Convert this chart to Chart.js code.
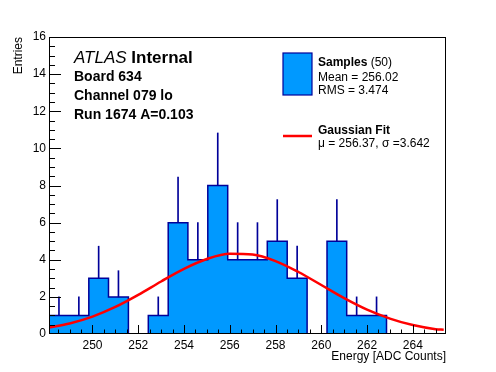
<!DOCTYPE html>
<html>
<head>
<meta charset="utf-8">
<script src="https://cdn.jsdelivr.net/npm/chart.js@4.4.1/dist/chart.umd.min.js"></script>
<style>
    html, body { margin: 0; padding: 0; background: #fff; }
    #wrap { width: 496px; height: 372px; }
</style>
</head>
<body>
<div id="wrap"><canvas id="hist"></canvas></div>
<script>
// histogram bins (ADC counts)
const binEdges = [248.1, 248.97, 249.84, 250.70, 251.57, 252.44, 253.31, 254.17, 255.04, 255.91,
    256.78, 257.64, 258.51, 259.38, 260.25, 261.11, 261.98, 262.85, 263.72, 264.58, 265.45];
const counts = [1, 1, 3, 2, 0, 1, 6, 4, 8, 4, 4, 5, 3, 0, 5, 1, 1, 0, 0, 0];
const errors = [1, 1, 1.73, 1.41, 0, 1, 2.45, 2, 2.83, 2, 2, 2.24, 1.73, 0, 2.24, 1, 1, 0, 0, 0];

// gaussian fit curve
const fitX = [248.1, 249, 250, 251, 252, 253, 254, 255, 256, 257, 258, 259, 260, 261, 262, 263, 264, 265, 265.35];
const fitY = [0.35, 0.57, 0.94, 1.46, 2.11, 2.83, 3.51, 4.04, 4.32, 4.28, 3.93, 3.34, 2.64, 1.93, 1.31, 0.83, 0.48, 0.26, 0.23];

const xTickLabels = [250, 252, 254, 256, 258, 260, 262, 264];
const yTickLabels = [0, 2, 4, 6, 8, 10, 12, 14, 16];

const infoLines = ['Board 634', 'Channel 079 lo', 'Run 1674 A=0.103'];
const sampleStats = ['Mean = 256.02', 'RMS = 3.474'];
const fitStats = 'μ = 256.37, σ =3.642';

var FONT = '"Liberation Sans", Arial, Helvetica, sans-serif';
var FILL = 'rgb(0, 153, 255)';
var EDGE = 'rgb(0, 0, 153)';

var histPoints = binEdges.map(function (e, i) {
    return { x: e, y: counts[Math.min(i, counts.length - 1)] };
});

var errPoints = [];
counts.forEach(function (c, i) {
    if (c > 0) {
        errPoints.push({ x: (binEdges[i] + binEdges[i + 1]) / 2, y: [c, c + errors[i]] });
    }
});

var fitPoints = fitX.map(function (x, i) {
    return { x: x, y: fitY[i] };
});

// ROOT style frame, inward ticks, labels and legend
var rootStyle = {
    id: 'rootStyle',
    afterDraw: function (chart) {
        var ctx = chart.ctx;
        var a = chart.chartArea;
        var xs = chart.scales.x;
        var ys = chart.scales.y;
        ctx.save();
        ctx.strokeStyle = '#000';
        ctx.lineWidth = 1;
        ctx.beginPath();
        var v, px;
        for (v = 248.5; v <= 265.4; v += 0.5) {
            px = Math.round(xs.getPixelForValue(v)) + 0.5;
            var len = (v % 2 === 0) ? 9 : 4.5;
            ctx.moveTo(px, a.bottom);
            ctx.lineTo(px, a.bottom - len);
        }
        for (v = 0.5; v < 16; v += 0.5) {
            px = Math.round(ys.getPixelForValue(v)) + 0.5;
            var ylen = (v % 2 === 0) ? 12 : 6;
            ctx.moveTo(a.left, px);
            ctx.lineTo(a.left + ylen, px);
        }
        ctx.stroke();
        ctx.strokeRect(a.left + 0.5, a.top + 0.5, a.right - a.left - 1, a.bottom - a.top - 1);

        // ATLAS label
        ctx.fillStyle = '#000';
        ctx.textBaseline = 'alphabetic';
        ctx.textAlign = 'left';
        ctx.font = 'italic 17px ' + FONT;
        ctx.fillText('ATLAS', 74, 63);
        var w = ctx.measureText('ATLAS ').width;
        ctx.font = 'bold 17px ' + FONT;
        ctx.fillText('Internal', 74 + w, 63);
        ctx.font = 'bold 14px ' + FONT;
        infoLines.forEach(function (t, i) {
            ctx.fillText(t, 74, 81 + i * 19);
        });

        // legend
        ctx.fillStyle = FILL;
        ctx.fillRect(283, 53, 29, 42);
        ctx.strokeStyle = EDGE;
        ctx.lineWidth = 1.2;
        ctx.strokeRect(283, 53, 29, 42);
        ctx.strokeStyle = 'rgb(255, 0, 0)';
        ctx.lineWidth = 2.5;
        ctx.beginPath();
        ctx.moveTo(283, 136);
        ctx.lineTo(312, 136);
        ctx.stroke();

        ctx.fillStyle = '#000';
        ctx.font = 'bold 12px ' + FONT;
        ctx.fillText('Samples', 318, 65.5);
        var sw = ctx.measureText('Samples ').width;
        ctx.font = '12px ' + FONT;
        ctx.fillText('(50)', 318 + sw, 65.5);
        sampleStats.forEach(function (t, i) {
            ctx.fillText(t, 318, 80.5 + i * 13.5);
        });
        ctx.font = 'bold 12px ' + FONT;
        ctx.fillText('Gaussian Fit', 318, 134);
        ctx.font = '12px ' + FONT;
        ctx.fillText(fitStats, 318, 147);
        ctx.restore();
    }
};

new Chart(document.getElementById('hist'), {
    type: 'line',
    data: {
        datasets: [{
            label: 'Gaussian Fit',
            data: fitPoints,
            borderColor: 'rgb(255, 0, 0)',
            borderWidth: 2.5,
            pointRadius: 0,
            cubicInterpolationMode: 'monotone',
            fill: false,
            order: 0
        }, {
            type: 'bar',
            label: 'errors',
            data: errPoints,
            backgroundColor: EDGE,
            borderWidth: 0,
            barThickness: 1,
            order: 1
        }, {
            label: 'Samples',
            data: histPoints,
            stepped: 'before',
            borderColor: EDGE,
            borderWidth: 1.5,
            backgroundColor: FILL,
            fill: 'origin',
            pointRadius: 0,
            order: 2
        }]
    },
    options: {
        responsive: true,
        maintainAspectRatio: false,
        animation: false,
        events: [],
        layout: { padding: { left: 0, right: 50, top: 37, bottom: 0 } },
        plugins: {
            legend: { display: false },
            tooltip: { enabled: false }
        },
        scales: {
            x: {
                type: 'linear',
                min: 248.1,
                max: 265.45,
                offset: false,
                grid: { display: false, drawTicks: false, offset: false },
                border: { display: false },
                afterBuildTicks: function (scale) {
                    scale.ticks = xTickLabels.map(function (v) { return { value: v }; });
                },
                afterFit: function (scale) { scale.height = 38; },
                ticks: {
                    autoSkip: false,
                    maxRotation: 0,
                    padding: 4,
                    color: '#000',
                    font: { family: FONT, size: 12 }
                },
                title: {
                    display: true,
                    text: 'Energy [ADC Counts]',
                    align: 'end',
                    color: '#000',
                    font: { family: FONT, size: 12 },
                    padding: { top: 0, bottom: 8.5 }
                }
            },
            y: {
                min: 0,
                max: 16,
                grid: { display: false, drawTicks: false },
                border: { display: false },
                afterBuildTicks: function (scale) {
                    scale.ticks = yTickLabels.map(function (v) { return { value: v }; });
                },
                afterFit: function (scale) { scale.width = 49; },
                ticks: {
                    padding: 3,
                    color: '#000',
                    font: { family: FONT, size: 12 }
                },
                title: {
                    display: true,
                    text: 'Entries',
                    align: 'end',
                    color: '#000',
                    font: { family: FONT, size: 12 },
                    padding: { top: 11, bottom: 0 }
                }
            }
        }
    },
    plugins: [rootStyle]
});
</script>
</body>
</html>
